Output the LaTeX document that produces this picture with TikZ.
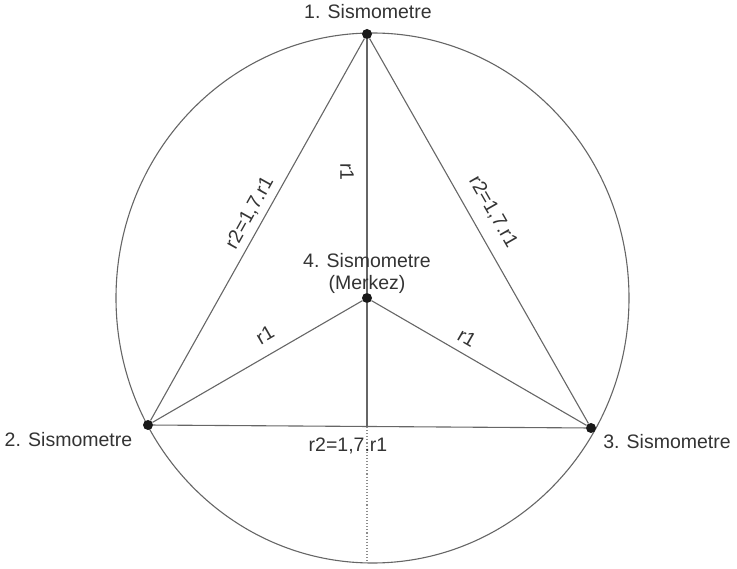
\documentclass[tikz,border=0pt]{standalone}
\usepackage{fontspec}
\setmainfont{Liberation Sans}
\begin{document}
\begin{tikzpicture}[x=1pt,y=-1pt,
  seis/.style={circle,fill=black!90,inner sep=0pt,minimum size=10pt},
  ln/.style={draw=black!60,line width=1.1pt},
  lbl/.style={text=black!80,font=\fontsize{19.5}{22}\selectfont,inner sep=0pt}]
\useasboundingbox (0,0) rectangle (737,569);
% outer circle
\draw[ln] (372.5,298) ellipse [x radius=256.5, y radius=265];
% seismometers
\node[seis] (s1) at (367,34) {};
\node[seis] (s2) at (148,425) {};
\node[seis] (s3) at (591,428) {};
\node[seis] (s4) at (367,298) {};
\coordinate (hc) at (367,427);
\coordinate (bot) at (367,563);
% connectors
\draw[ln] (s1) -- (s2);
\draw[ln] (s1) -- (s3);
\draw[ln] (s2) -- (s3);
\draw[ln] (s4) -- (s2);
\draw[ln] (s4) -- (s3);
\draw[ln] (s1) -- (s4);
\draw[ln] (s4) -- (hc);
\draw[draw=black!45,line width=1.1pt,dotted] (hc) -- (bot);
% labels
\node[lbl] (t1) at (368,12) {1. Sismometre};
\node[lbl] (t2) at (68.5,440) {2. Sismometre};
\node[lbl] (t3) at (667,442) {3. Sismometre};
\node[lbl,align=center] (t4) at (367,273) {4. Sismometre\\(Merkez)};
\node[lbl,rotate=60.8] (e12) at (250,213) {r2=1,7.r1};
\node[lbl,rotate=-60.2] (e13) at (493,212) {r2=1,7.r1};
\node[lbl] (e23) at (348,446) {r2=1,7.r1};
\node[lbl,rotate=-90] (e14) at (347,172) {r1};
\node[lbl,rotate=30.1] (e24) at (265,335) {r1};
\node[lbl,rotate=-30] (e34) at (467,338) {r1};
\end{tikzpicture}
\end{document}
